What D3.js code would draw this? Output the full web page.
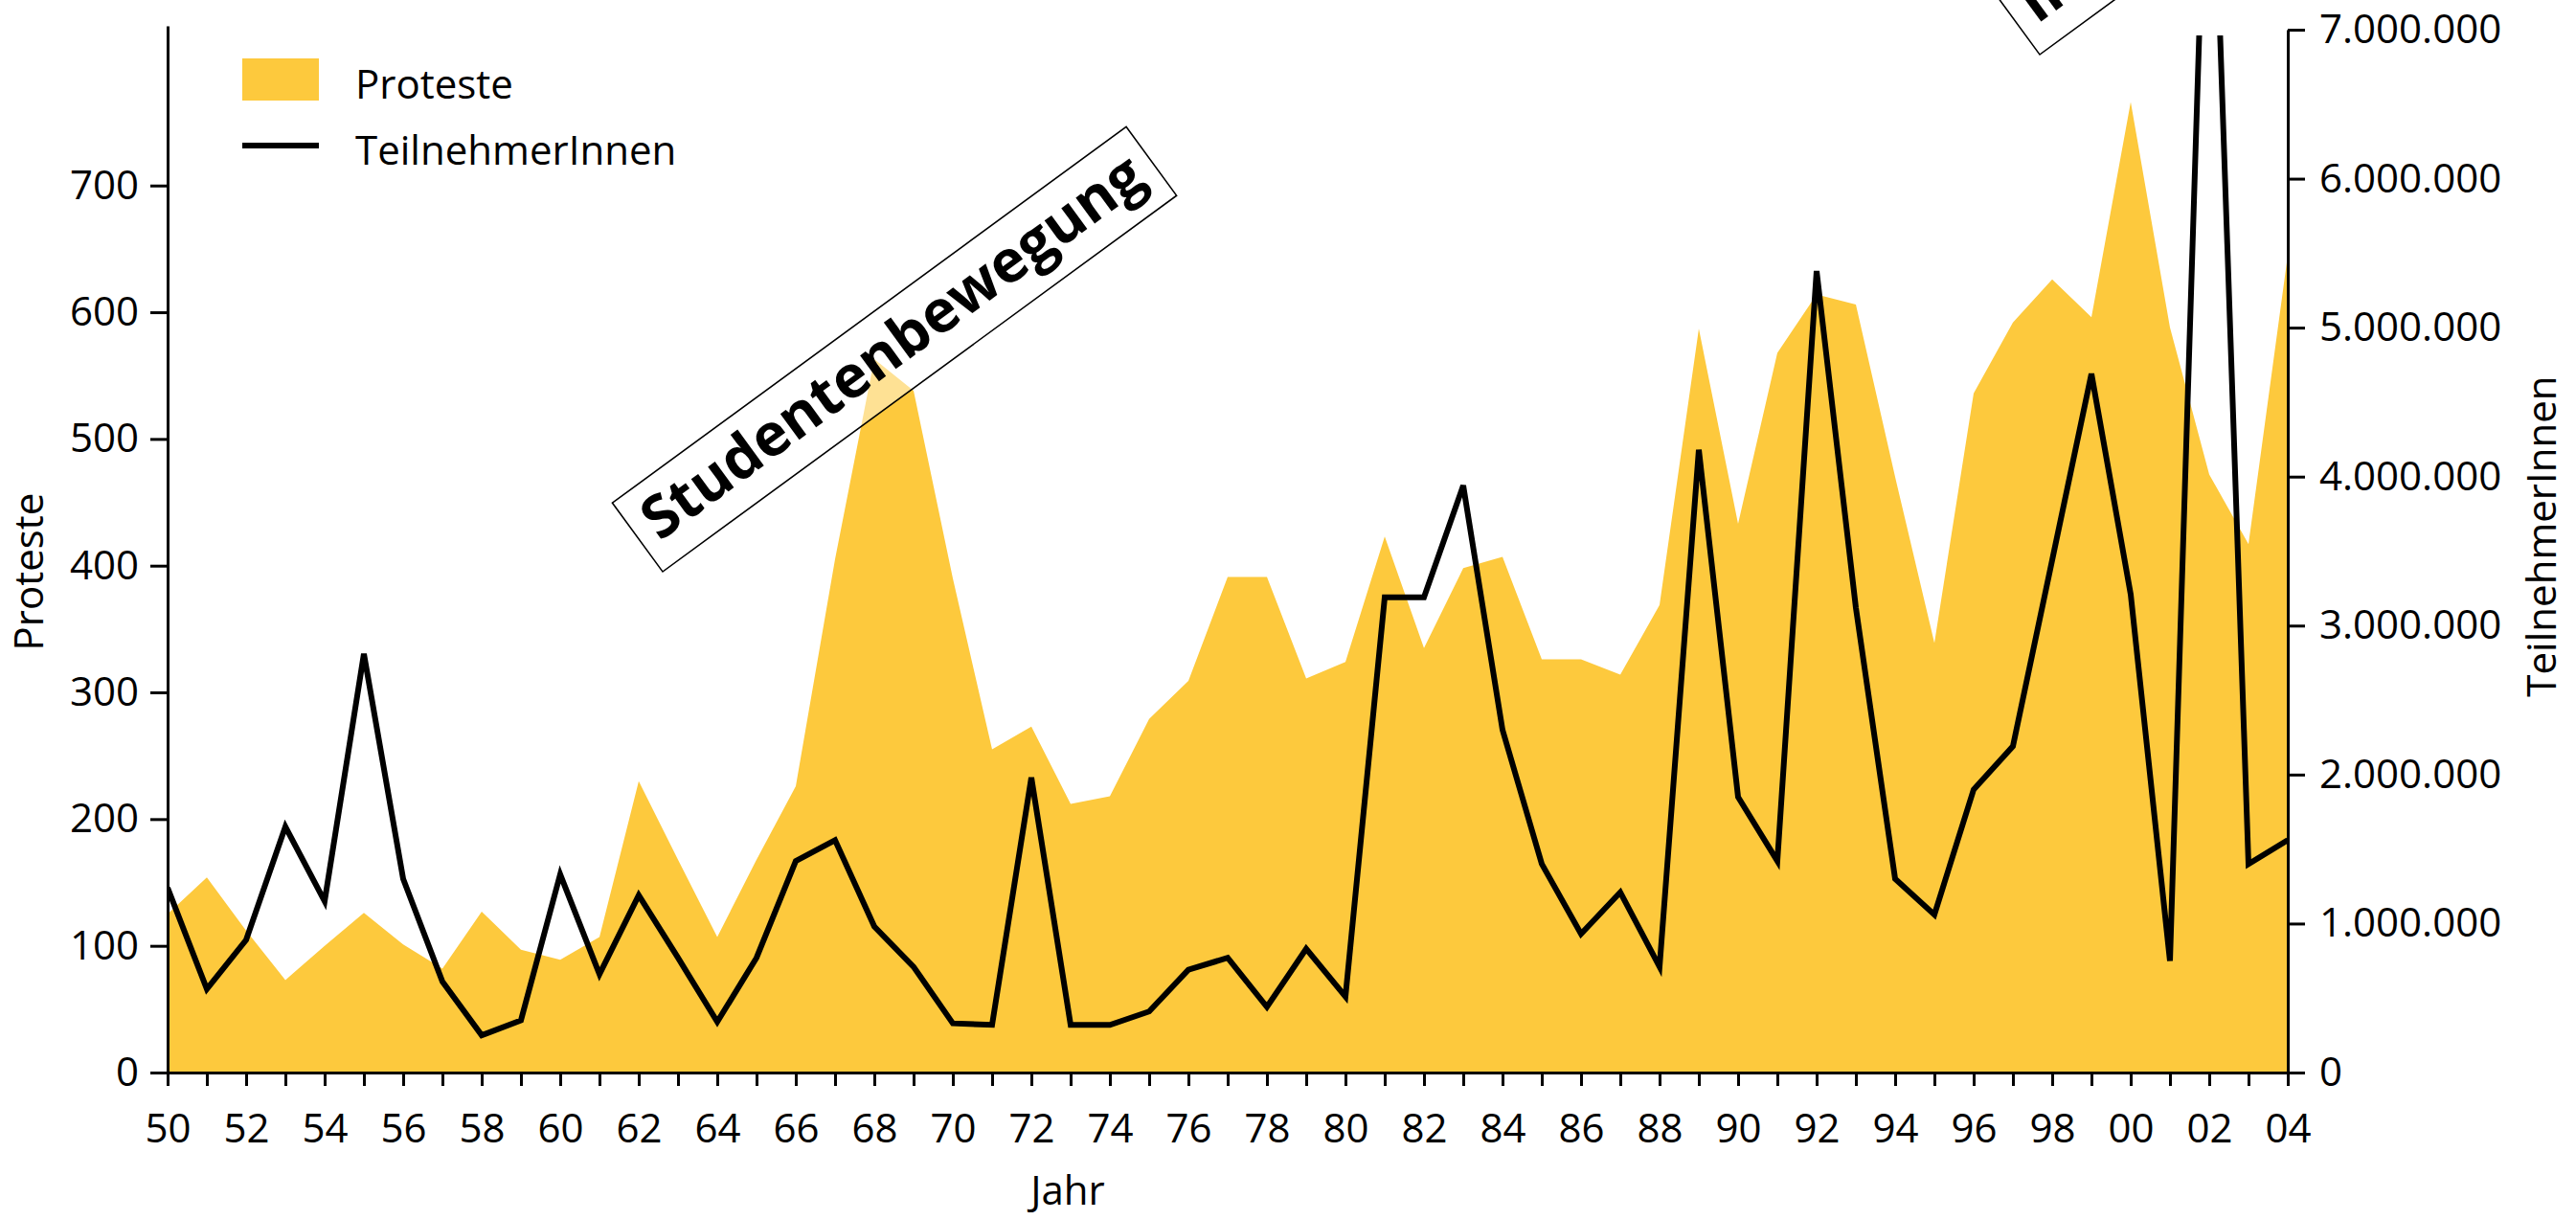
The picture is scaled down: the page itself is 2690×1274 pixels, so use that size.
<!DOCTYPE html>
<html>
<head>
<meta charset="utf-8">
<title>Proteste und TeilnehmerInnen 1950-2004</title>
<style>
  body { margin: 0; background: #fff; }
  svg { display: block; font-family: "Open Sans", sans-serif; }
  .axis path, .axis line { stroke: #000; stroke-width: 3; fill: none; }
  .axis text { font-family: "Open Sans", sans-serif; font-size: 42px; fill: #000; }
  .title, .legend text { font-size: 42px; fill: #000; }
  .note text { font-weight: bold; fill: #000; }
</style>
</head>
<body>
<svg width="2690" height="1274"></svg>
<script src="https://cdnjs.cloudflare.com/ajax/libs/d3/7.8.5/d3.min.js"></script>
<script>
// ---- data ----
var years = [1950, 1951, 1952, 1953, 1954, 1955, 1956, 1957, 1958, 1959,
             1960, 1961, 1962, 1963, 1964, 1965, 1966, 1967, 1968, 1969,
             1970, 1971, 1972, 1973, 1974, 1975, 1976, 1977, 1978, 1979,
             1980, 1981, 1982, 1983, 1984, 1985, 1986, 1987, 1988, 1989,
             1990, 1991, 1992, 1993, 1994, 1995, 1996, 1997, 1998, 1999,
             2000, 2001, 2002, 2003, 2004];

// Anzahl Proteste (Flaeche, linke Achse)
var proteste = [125, 154, 112, 73, 100, 126, 101, 82, 127, 97,
                89, 107, 230, 168, 107, 168, 226, 405, 563, 538,
                390, 255, 273, 212, 218, 279, 309, 391, 391, 311,
                324, 423, 335, 398, 407, 326, 326, 314, 369, 587,
                433, 568, 614, 606, 470, 339, 536, 592, 626, 596,
                766, 588, 472, 417, 645];

// TeilnehmerInnen (Linie, rechte Achse)
var teilnehmer = [1240000, 560000, 890000, 1650000, 1150000, 2810000, 1300000, 610000, 250000, 350000,
                  1330000, 660000, 1190000, 770000, 340000, 770000, 1420000, 1560000, 980000, 710000,
                  330000, 320000, 1980000, 320000, 320000, 410000, 690000, 770000, 440000, 830000,
                  510000, 3190000, 3190000, 3940000, 2300000, 1400000, 930000, 1210000, 710000, 4180000,
                  1850000, 1420000, 5380000, 3120000, 1300000, 1060000, 1900000, 2190000, 3440000, 4690000,
                  3210000, 750000, 9100000, 1400000, 1560000];

var protestTicks = [0, 100, 200, 300, 400, 500, 600, 700];
var teilTicks = [0, 1000000, 2000000, 3000000, 4000000, 5000000, 6000000, 7000000];
var seriesNames = ["Proteste", "TeilnehmerInnen"];
var notes = ["Studentenbewegung", "Irakkrieg"];

// ---- layout ----
var yellow = "#fdc93d";
var plotLeft = 175, plotRight = 2389, plotTop = 27, plotBottom = 1120;

var svg = d3.select("svg");

var x = d3.scaleLinear().domain([1950, 2004]).range([plotLeft, plotRight]);
var yL = d3.scaleLinear().domain([0, 826]).range([plotBottom, plotTop]);
var yR = d3.scaleLinear().domain([0, 7000000]).range([plotBottom, 31]);

var de = d3.formatLocale({ decimal: ",", thousands: ".", grouping: [3], currency: ["", " €"] });

svg.append("defs").append("clipPath").attr("id", "plot")
    .append("rect")
    .attr("x", plotLeft).attr("y", 37)
    .attr("width", plotRight - plotLeft).attr("height", plotBottom - 37);

// Flaeche
var area = d3.area()
    .x((d, i) => x(years[i]))
    .y0(yL(0))
    .y1(d => yL(d));

svg.append("path")
    .attr("d", area(proteste))
    .attr("fill", yellow);

// Linie
var line = d3.line()
    .x((d, i) => x(years[i]))
    .y(d => yR(d));

svg.append("path")
    .attr("d", line(teilnehmer))
    .attr("clip-path", "url(#plot)")
    .attr("fill", "none")
    .attr("stroke", "#000")
    .attr("stroke-width", 6);

// Beschriftungen (gedrehte Kaesten)
var angle = -36.2, boxH = 89, pad = 16;

function note(label, cx, cy, boxW, fs) {
    var g = svg.append("g").attr("class", "note")
        .attr("transform", "translate(" + cx + "," + cy + ") rotate(" + angle + ")");
    var rect = g.append("rect");
    var t = g.append("text").text(label)
        .attr("x", pad).attr("y", -27)
        .style("font-size", fs + "px");
    var w = boxW || t.node().getComputedTextLength() + 2 * pad;
    if (boxW) t.attr("x", (boxW - t.node().getComputedTextLength()) / 2);
    rect.attr("x", 0).attr("y", -boxH)
        .attr("width", w).attr("height", boxH)
        .attr("fill", "#fff").attr("fill-opacity", 0.45)
        .attr("stroke", "#000").attr("stroke-width", 1.6);
    return t;
}

// Schriftgroesse so waehlen, dass der Text in den Kasten passt
var probe = svg.append("text").attr("class", "note").style("font-weight", "bold")
    .style("font-size", "60px").text(notes[0]);
var fs = 60 * (665 - 2 * pad) / probe.node().getComputedTextLength();
probe.remove();

note(notes[0], 692, 597, 665, fs);
note(notes[1], 2130, 57, null, fs);

// Achsen
var xAxis = d3.axisBottom(x)
    .tickValues(years)
    .tickSize(14).tickSizeOuter(0).tickPadding(29)
    .tickFormat(d => d % 2 === 0 ? String(d % 100).padStart(2, "0") : "");

svg.append("g").attr("class", "axis")
    .attr("transform", "translate(0," + plotBottom + ")")
    .call(xAxis);

svg.append("g").attr("class", "axis")
    .attr("transform", "translate(" + plotLeft + ",0)")
    .call(d3.axisLeft(yL).tickValues(protestTicks)
        .tickSize(18).tickSizeOuter(0).tickPadding(12));

svg.append("g").attr("class", "axis")
    .attr("transform", "translate(" + plotRight + ",0)")
    .call(d3.axisRight(yR).tickValues(teilTicks)
        .tickSize(18).tickSizeOuter(0).tickPadding(15)
        .tickFormat(de.format(",d")));

// Achsentitel
svg.append("text").attr("class", "title")
    .attr("transform", "translate(45,597) rotate(-90)")
    .attr("text-anchor", "middle").text("Proteste");

svg.append("text").attr("class", "title")
    .attr("transform", "translate(2669,560) rotate(-90)")
    .attr("text-anchor", "middle").text("TeilnehmerInnen");

svg.append("text").attr("class", "title")
    .attr("x", 1115).attr("y", 1258)
    .attr("text-anchor", "middle").text("Jahr");

// Legende
var legend = svg.append("g").attr("class", "legend");
legend.append("rect")
    .attr("x", 253).attr("y", 61).attr("width", 80).attr("height", 44)
    .attr("fill", yellow);
legend.append("line")
    .attr("x1", 253).attr("x2", 333).attr("y1", 152).attr("y2", 152)
    .attr("stroke", "#000").attr("stroke-width", 6);
legend.selectAll("text").data(seriesNames).enter().append("text")
    .attr("x", 371)
    .attr("y", (d, i) => i === 0 ? 103 : 172)
    .text(d => d);
</script>
</body>
</html>
